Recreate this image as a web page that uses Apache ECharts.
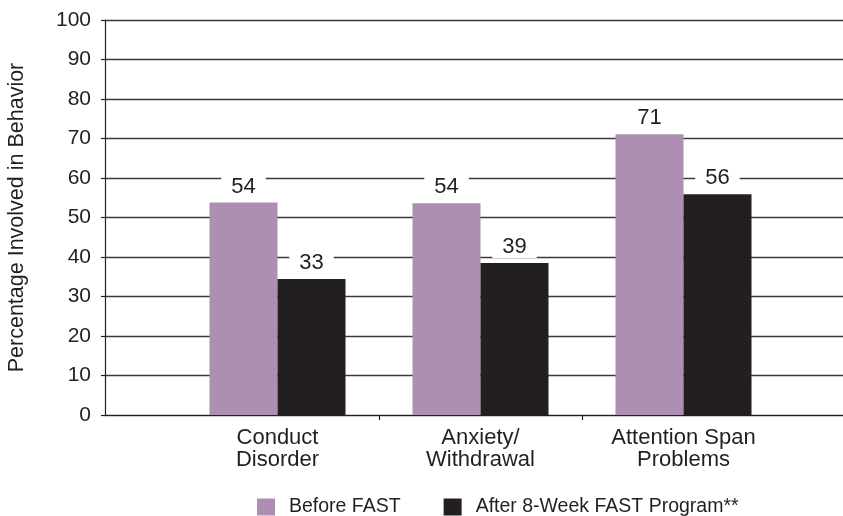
<!DOCTYPE html>
<html>
<head>
<meta charset="utf-8">
<script src="https://cdn.jsdelivr.net/npm/echarts@6/dist/echarts.min.js"></script>
<style>
html,body{margin:0;padding:0;background:#fff;overflow:hidden;}
#chart{width:843px;height:516px;}
</style>
</head>
<body>
<div id="chart"></div>
<script>
const categories = ['Conduct\nDisorder', 'Anxiety/\nWithdrawal', 'Attention Span\nProblems'];
const seriesNames = ['Before FAST', 'After 8-Week FAST Program**'];
const beforeValues = [53.8, 53.6, 71.1];
const afterValues = [34.4, 38.5, 55.9];
const beforeLabels = [54, 54, 71];
const afterLabels = [33, 39, 56];
const yTicks = [0, 10, 20, 30, 40, 50, 60, 70, 80, 90, 100];
const yAxisTitle = 'Percentage Involved in Behavior';

const FONT = '"Liberation Sans", Arial, Helvetica, sans-serif';
const INK = '#231f20';
const PURPLE = '#ad8fb1';

const chart = echarts.init(document.getElementById('chart'), null, {renderer: 'canvas'});

function labelFor(arr) {
  return {
    show: true,
    position: 'top',
    distance: 5,
    formatter: p => String(arr[p.dataIndex]),
    color: INK,
    fontFamily: FONT,
    fontSize: 22,
    backgroundColor: '#fff',
    padding: [0, 10, 0, 10]
  };
}

chart.setOption({
  animation: false,
  backgroundColor: '#fff',
  grid: [
    {left: 105, right: 0, top: 20, bottom: 101, outerBoundsMode: 'none'},
    {left: 176, width: 812, top: 20, bottom: 101, outerBoundsMode: 'none'}
  ],
  legend: {
    data: seriesNames,
    left: 252,
    top: 492,
    itemWidth: 18,
    itemHeight: 17,
    itemGap: 43,
    icon: 'rect',
    textStyle: {color: INK, fontFamily: FONT, fontSize: 19.5, padding: [0, 0, 0, 9]}
  },
  xAxis: [
    {
      gridIndex: 0, type: 'value', min: 0, max: 1,
      axisLine: {show: true, lineStyle: {color: INK, width: 1.2}},
      axisTick: {show: false}, axisLabel: {show: false}, splitLine: {show: false}
    },
    {
      gridIndex: 1, type: 'category',
      data: categories.concat(['']),
      axisLine: {show: false},
      axisTick: {show: true, length: 5, interval: (i) => i === 1 || i === 2, lineStyle: {color: INK, width: 1.2}},
      axisLabel: {color: INK, fontFamily: FONT, fontSize: 22, lineHeight: 22, margin: 12, interval: 0},
      splitLine: {show: false}
    }
  ],
  yAxis: [
    {
      gridIndex: 0, type: 'value', min: yTicks[0], max: yTicks[yTicks.length - 1], interval: 10,
      name: yAxisTitle, nameLocation: 'middle', nameGap: 77,
      nameTextStyle: {color: INK, fontFamily: FONT, fontSize: 21.5},
      axisLine: {show: true, lineStyle: {color: INK, width: 1.2}},
      axisTick: {show: true, length: 4, lineStyle: {color: INK, width: 1.2}},
      axisLabel: {color: INK, fontFamily: FONT, fontSize: 21, margin: 14},
      splitLine: {show: true, lineStyle: {color: '#3c3a3b', width: 1.3}}
    },
    {
      gridIndex: 1, type: 'value', min: yTicks[0], max: yTicks[yTicks.length - 1], interval: 10,
      show: false, splitLine: {show: false}
    }
  ],
  series: [
    {
      name: seriesNames[0], type: 'bar', xAxisIndex: 1, yAxisIndex: 1,
      data: beforeValues, barWidth: 68, barGap: '0%',
      itemStyle: {color: PURPLE},
      label: labelFor(beforeLabels)
    },
    {
      name: seriesNames[1], type: 'bar', xAxisIndex: 1, yAxisIndex: 1,
      data: afterValues, barWidth: 68, barGap: '0%',
      itemStyle: {color: INK},
      label: labelFor(afterLabels)
    }
  ]
});
</script>
</body>
</html>
